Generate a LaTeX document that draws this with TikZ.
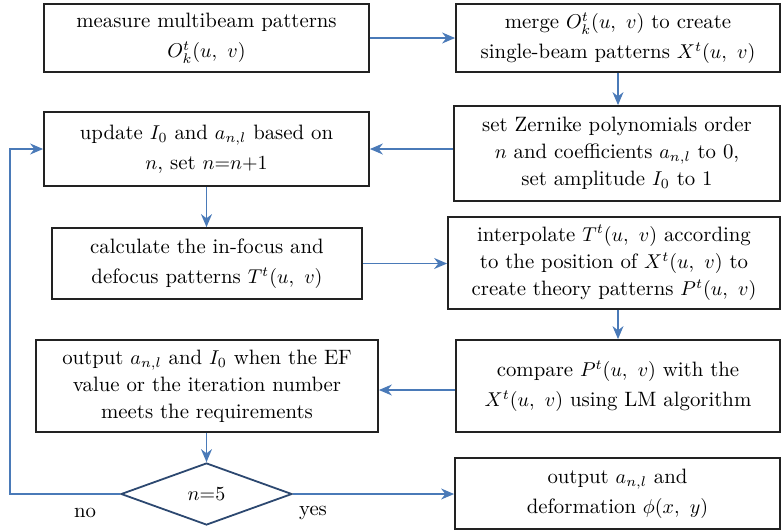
\documentclass[tikz,border=0pt]{standalone}
\usetikzlibrary{arrows.meta,shapes.geometric,calc}
\definecolor{arrowblue}{RGB}{74,122,184}
\definecolor{navy}{RGB}{44,72,112}
\definecolor{boxline}{RGB}{34,34,34}
\tikzset{
  procbox/.style={draw=boxline,line width=0.9pt,rectangle,align=center,inner sep=0pt,
    font=\fontsize{10.4}{15}\selectfont},
  tightbox/.style={procbox,font=\fontsize{10.4}{13.6}\selectfont},
  decbox/.style={draw=navy,line width=0.9pt,diamond,inner sep=0pt,
    font=\fontsize{10.4}{15}\selectfont},
  flow/.style={draw=arrowblue,line width=0.7pt,-{Stealth[length=6.5pt,width=5.5pt]}},
  lbl/.style={font=\fontsize{10.4}{15}\selectfont,inner sep=0pt}
}
\begin{document}
\begin{tikzpicture}[x=0.5pt,y=-0.5pt]
\useasboundingbox (0,0) rectangle (781,531);
\node[procbox,minimum width=162.5pt,minimum height=34pt] (A) at (206.5,38)
  {measure multibeam patterns\\$O^t_k(u,\ v)$};
\node[procbox,minimum width=162pt,minimum height=34pt] (M) at (618,38)
  {merge $O^t_k(u,\ v)$ to create\\single-beam patterns $X^t(u,\ v)$};
\node[procbox,minimum width=162.5pt,minimum height=37pt] (U) at (206.5,149)
  {update $I_0$ and $a_{n,l}$ based on\\$n$, set $n{=}n{+}1$};
\node[tightbox,minimum width=163pt,minimum height=47.5pt] (Z) at (617,153.5)
  {set Zernike polynomials order\\$n$ and coefficients $a_{n,l}$ to 0,\\set amplitude $I_0$ to 1};
\node[procbox,minimum width=155pt,minimum height=35.5pt] (C) at (207,263.5)
  {calculate the in-focus and\\defocus patterns $T^t(u,\ v)$};
\node[tightbox,minimum width=166pt,minimum height=46pt] (I) at (614,263)
  {interpolate $T^t(u,\ v)$ according\\to the position of $X^t(u,\ v)$ to\\create theory patterns $P^t(u,\ v)$};
\node[tightbox,minimum width=171pt,minimum height=46pt] (O) at (207,386)
  {output $a_{n,l}$ and $I_0$ when the EF\\value or the iteration number\\meets the requirements};
\node[procbox,minimum width=162pt,minimum height=46pt] (P) at (618,386)
  {compare $P^t(u,\ v)$ with the\\$X^t(u,\ v)$ using LM algorithm};
\node[decbox,minimum width=85.5pt,minimum height=31pt,aspect=2.76] (D) at (206.5,494)
  {$n{=}5$};
\node[procbox,minimum width=162.5pt,minimum height=35.5pt] (F) at (617.5,493.5)
  {output $a_{n,l}$ and\\deformation $\phi(x,\ y)$};
\node[lbl] (no) at (85,513) {no};
\node[lbl] (yes) at (313,513) {yes};
\coordinate (L) at (10,494);
\draw[flow] (A.east) -- (M.west);
\draw[flow] (M.south) -- (M.south |- Z.north);
\draw[flow] (U.east -| Z.west) -- (U.east);
\draw[flow] (U.south) -- (U.south |- C.north);
\draw[flow] (C.east) -- (C.east -| I.west);
\draw[flow] (P.north |- I.south) -- (P.north);
\draw[flow] ([yshift=-2pt]P.west) -- ([yshift=-2pt]P.west -| O.east);
\draw[flow] (O.south -| D.north) -- (D.north);
\draw[flow] (D.east) -- (D.east -| F.west);
\draw[flow] (D.west) -- (L) |- (U.west);
\end{tikzpicture}
\end{document}
